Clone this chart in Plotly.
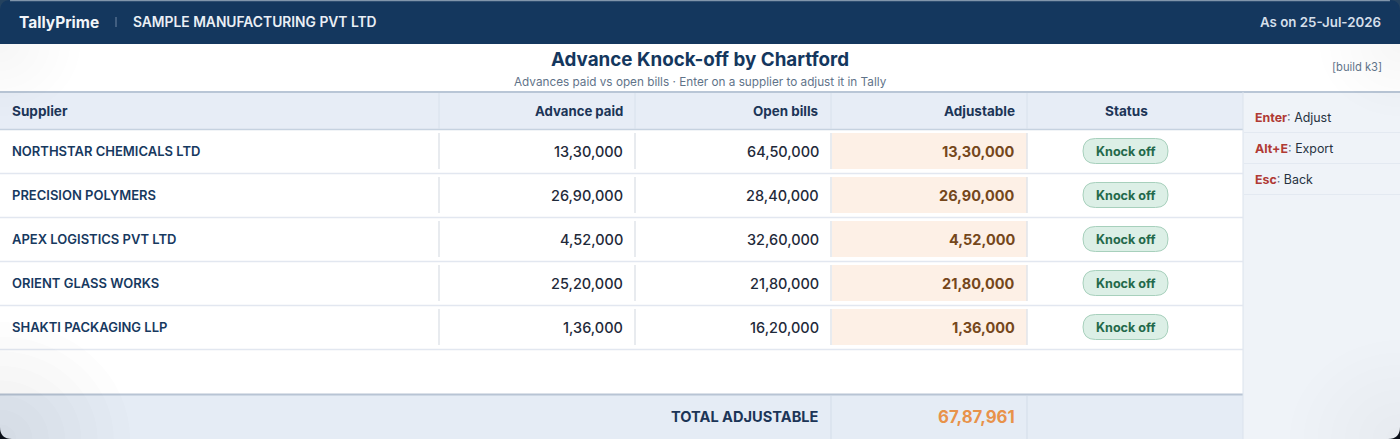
import plotly.graph_objects as go

# ---- data
suppliers = ["NORTHSTAR CHEMICALS LTD", "PRECISION POLYMERS", "APEX LOGISTICS PVT LTD", "ORIENT GLASS WORKS", "SHAKTI PACKAGING LLP"]
advance_paid = ["13,30,000", "26,90,000", "4,52,000", "25,20,000", "1,36,000"]
open_bills = ["64,50,000", "28,40,000", "32,60,000", "21,80,000", "16,20,000"]
adjustable = ["13,30,000", "26,90,000", "4,52,000", "21,80,000", "1,36,000"]
status = ["Knock off"] * 5
headers = ["Supplier", "Advance paid", "Open bills", "Adjustable", "Status"]
shortcut_keys = ["Enter", "Alt+E", "Esc"]
shortcut_actions = ["Adjust", "Export", "Back"]
total_label = "TOTAL ADJUSTABLE"
total_value = "67,87,961"

FONT = "Inter"
NAVY = "#14375e"
INK = "#1c3557"
W, H = 1400, 439
shapes, ann = [], []


def rect(x0, y0, x1, y1, fill=None):
    shapes.append(dict(type="rect", xref="x", yref="y", x0=x0, y0=y0, x1=x1, y1=y1,
                       fillcolor=fill or "rgba(0,0,0,0)", line=dict(width=0), layer="below"))


def hline(y, x0, x1, color, w=1):
    shapes.append(dict(type="line", xref="x", yref="y", x0=x0, x1=x1, y0=y, y1=y, line=dict(color=color, width=w), layer="below"))


def vline(x, y0, y1, color, w=1):
    shapes.append(dict(type="line", xref="x", yref="y", x0=x, x1=x, y0=y0, y1=y1, line=dict(color=color, width=w), layer="below"))


def text(x, y, s, size, color, anchor="left", weight=400):
    # annotations carry about 2px of inner padding: compensate for it
    dx = {"left": -2, "right": 2, "center": 0}[anchor]
    ann.append(dict(x=x + dx, y=y, xref="x", yref="y", text=s, showarrow=False, xanchor=anchor, yanchor="middle",
                    font=dict(family=FONT, size=size, color=color, weight=weight)))


def rounded(x0, y0, x1, y1, r, fill, line, lw=1):
    p = (f"M{x0+r},{y0} L{x1-r},{y0} Q{x1},{y0} {x1},{y0+r} L{x1},{y1-r} Q{x1},{y1} {x1-r},{y1} "
         f"L{x0+r},{y1} Q{x0},{y1} {x0},{y1-r} L{x0},{y0+r} Q{x0},{y0} {x0+r},{y0} Z")
    shapes.append(dict(type="path", xref="x", yref="y", path=p, fillcolor=fill, line=dict(color=line, width=lw), layer="below"))


def corner(cx, cy, sx, sy, r, fill):
    p = f"M{cx},{cy} L{cx+sx*r},{cy} Q{cx},{cy} {cx},{cy+sy*r} Z"
    shapes.append(dict(type="path", xref="x", yref="y", path=p, fillcolor=fill, line=dict(width=0), layer="below"))


# panels
TABLE_R = 1243
rect(0, 92, W, 130, "#e7edf6")
rect(0, 395, TABLE_R, H, "#e5ecf5")
rect(TABLE_R, 92, W, H, "#eff3f8")
hline(92, 0, W, "#b9c6d6", 2)
hline(129.5, 0, TABLE_R, "#c6d2e0", 1.5)
hline(394.5, 0, TABLE_R, "#b8c4d4", 2)
vline(TABLE_R, 92, H, "#dbe3ec")

col_x = [439, 635, 831, 1027]
for x in col_x:
    vline(x, 93, 129, "#d8e1ec")
for x in (831, 1027):
    vline(x, 396, H, "#d3dde9")

for i in range(len(suppliers)):
    yc = 151 + 44 * i
    hline(173.5 + 44 * i, 0, TABLE_R, "#e2e7f0", 1.5)
    rect(832, yc - 18, 1027, yc + 18, "#fdf0e6")
    for x in col_x:
        vline(x, yc - 18, yc + 18, "#e1e5ea", 1.5)
    rounded(1083, yc - 12.5, 1168, yc + 12.5, 12.5, "#dcefe6", "#a7d0bc")

for i in range(len(shortcut_keys)):
    hline(132.5 + 31 * i, TABLE_R + 1, W, "#e3e9f1")

# soft vignette in the corners
for cx, cy, rmax, alpha in [(0, 44, 80, 0.006), (0, 439, 130, 0.012), (W, 44, 80, 0.006), (W, 439, 110, 0.006)]:
    for k in range(1, 9):
        r = rmax * k / 8
        shapes.append(dict(type="circle", xref="x", yref="y", x0=cx - r, x1=cx + r, y0=cy - r * 0.9, y1=cy + r * 0.9,
                           fillcolor=f"rgba(70,80,100,{alpha})", line=dict(width=0), layer="below"))

# top bar and frame corners
rect(0, 0, W, 44, NAVY)
hline(0.5, 10, W - 10, "#8195ab", 1.5)
corner(0, 439, 1, -1, 12, "#0a0f18")
corner(W, 439, -1, -1, 12, "#0a0f18")
corner(0, 0, 1, 1, 11, "#24425f")
corner(W, 0, -1, 1, 11, "#24425f")

# texts
text(19, 22, "TallyPrime", 15.5, "#f2f5f9", weight=700)
vline(116, 17, 27, "#6e86a3")
text(133, 22, "SAMPLE MANUFACTURING PVT LTD", 13.8, "#eaeff5", weight=600)
text(1381, 22, "As on 25-Jul-2026", 13.3, "#d5dfea", "right", 600)

text(700, 59, "Advance Knock-off by Chartford", 18.8, NAVY, "center", 700)
text(700, 82, "Advances paid vs open bills · Enter on a supplier to adjust it in Tally", 11.75, "#5f7389", "center")
text(1382, 67, "[build k3]", 11.2, "#5f7389", "right")

hdr_y = 111
text(12, hdr_y, headers[0], 13.6, INK, weight=700)
text(623, hdr_y, headers[1], 13.2, INK, "right", 700)
text(819, hdr_y, headers[2], 13.4, INK, "right", 700)
text(1015, hdr_y, headers[3], 13.5, INK, "right", 700)
text(1126, hdr_y, headers[4], 13.6, INK, "center", 700)

for i in range(len(suppliers)):
    yc = 151 + 44 * i
    text(12, yc, suppliers[i], 13, "#17395f", weight=600)
    text(623, yc, advance_paid[i], 14.5, "#1f2a3a", "right", 500)
    text(819, yc, open_bills[i], 14.5, "#1f2a3a", "right", 500)
    text(1015, yc, adjustable[i], 14.5, "#75471b", "right", 700)
    text(1125.5, yc, status[i], 12.6, "#23694a", "center", 700)

for i, (k, a) in enumerate(zip(shortcut_keys, shortcut_actions)):
    yc = 117 + 31 * i
    text(1254.5, yc, f"<b><span style='color:#b03a34'>{k}</span></b><span style='color:#5f7389'>:</span> {a}", 12.4, "#26323f")

text(819, 416.5, total_label, 14.6, INK, "right", 700)
text(1015, 416.5, total_value, 16.8, "#e8924a", "right", 700)

fig = go.Figure(go.Scatter(x=[0, W], y=[0, H], mode="markers", marker=dict(opacity=0), hoverinfo="skip"))
fig.update_layout(width=W, height=H, margin=dict(l=0, r=0, t=0, b=0), paper_bgcolor="#ffffff", plot_bgcolor="#ffffff",
                  shapes=shapes, annotations=ann, showlegend=False,
                  xaxis=dict(range=[0, W], visible=False, fixedrange=True),
                  yaxis=dict(range=[H, 0], visible=False, fixedrange=True))
fig.write_html("out.html", config=dict(displayModeBar=False),
               post_script="document.body.style.margin='0';document.body.style.overflow='hidden';")
